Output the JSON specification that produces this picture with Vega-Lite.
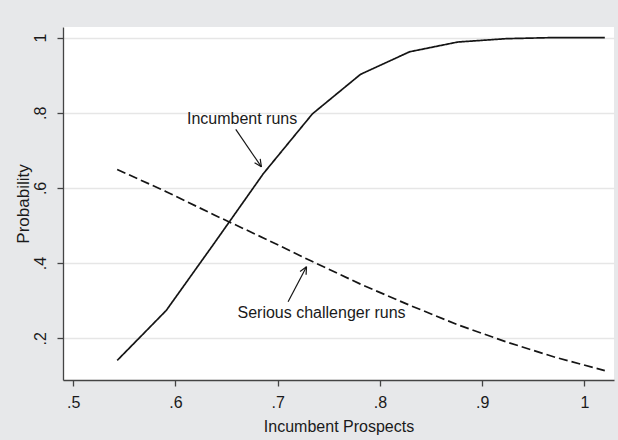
{
  "$schema": "https://vega.github.io/schema/vega-lite/v6.json",
  "autosize": {"type": "none"},
  "padding": {"left": 63, "top": 27, "right": 4, "bottom": 60},
  "width": 551,
  "height": 353,
  "background": "#e7e8ea",
  "config": {
    "view": {"stroke": null, "fill": "white"},
    "font": "Liberation Sans",
    "axis": {
      "labelFont": "Liberation Sans",
      "titleFont": "Liberation Sans",
      "labelFontSize": 16,
      "titleFontSize": 16,
      "titleFontWeight": "normal",
      "labelColor": "#1a1a1a",
      "titleColor": "#1a1a1a",
      "domainColor": "#444444",
      "domainWidth": 1.3,
      "tickColor": "#444444",
      "tickWidth": 1.3,
      "tickSize": 6
    }
  },
  "datasets": {
    "curves": [
      {"x": 0.543, "y": 0.141, "series": "Incumbent runs"},
      {"x": 0.591, "y": 0.274, "series": "Incumbent runs"},
      {"x": 0.638, "y": 0.453, "series": "Incumbent runs"},
      {"x": 0.686, "y": 0.638, "series": "Incumbent runs"},
      {"x": 0.734, "y": 0.797, "series": "Incumbent runs"},
      {"x": 0.781, "y": 0.902, "series": "Incumbent runs"},
      {"x": 0.829, "y": 0.962, "series": "Incumbent runs"},
      {"x": 0.876, "y": 0.988, "series": "Incumbent runs"},
      {"x": 0.924, "y": 0.997, "series": "Incumbent runs"},
      {"x": 0.972, "y": 1.0, "series": "Incumbent runs"},
      {"x": 1.02, "y": 1.0, "series": "Incumbent runs"},
      {"x": 0.543, "y": 0.649, "series": "Serious challenger runs"},
      {"x": 0.591, "y": 0.590, "series": "Serious challenger runs"},
      {"x": 0.638, "y": 0.528, "series": "Serious challenger runs"},
      {"x": 0.686, "y": 0.467, "series": "Serious challenger runs"},
      {"x": 0.734, "y": 0.404, "series": "Serious challenger runs"},
      {"x": 0.781, "y": 0.344, "series": "Serious challenger runs"},
      {"x": 0.829, "y": 0.288, "series": "Serious challenger runs"},
      {"x": 0.876, "y": 0.236, "series": "Serious challenger runs"},
      {"x": 0.924, "y": 0.190, "series": "Serious challenger runs"},
      {"x": 0.972, "y": 0.149, "series": "Serious challenger runs"},
      {"x": 1.02, "y": 0.114, "series": "Serious challenger runs"}
    ],
    "arrows": [
      {"x": 0.659, "y": 0.7555, "x2": 0.6841, "y2": 0.656},
      {"x": 0.6829, "y": 0.6771, "x2": 0.6841, "y2": 0.656},
      {"x": 0.6774, "y": 0.667, "x2": 0.6841, "y2": 0.656},
      {"x": 0.7102, "y": 0.2973, "x2": 0.7282, "y2": 0.3903},
      {"x": 0.7219, "y": 0.3775, "x2": 0.7282, "y2": 0.3903},
      {"x": 0.7278, "y": 0.369, "x2": 0.7282, "y2": 0.3903}
    ],
    "labels": [
      {"x": 0.6652, "y": 0.782, "label": "Incumbent runs"},
      {"x": 0.7429, "y": 0.2685, "label": "Serious challenger runs"}
    ]
  },
  "encoding": {
    "x": {
      "field": "x",
      "type": "quantitative",
      "scale": {"domain": [0.49, 1.029], "nice": false, "zero": false},
      "axis": {
        "title": "Incumbent Prospects",
        "values": [0.5, 0.6, 0.7, 0.8, 0.9, 1],
        "labelExpr": "datum.value == 1 ? '1' : replace(format(datum.value, '.1f'), '0.', '.')",
        "grid": false,
        "labelPadding": 8,
        "titlePadding": 8,
        "labelFlush": false
      }
    },
    "y": {
      "field": "y",
      "type": "quantitative",
      "scale": {"domain": [0.089, 1.028], "nice": false, "zero": false},
      "axis": {
        "title": "Probability",
        "titleFontSize": 17,
        "values": [0.2, 0.4, 0.6, 0.8, 1],
        "labelExpr": "datum.value == 1 ? '1' : replace(format(datum.value, '.1f'), '0.', '.')",
        "grid": true,
        "gridColor": "#e6e6e6",
        "gridWidth": 1.5,
        "labelAngle": -90,
        "labelAlign": "center",
        "labelBaseline": "bottom",
        "labelPadding": 9,
        "titlePadding": 0,
        "labelFlush": false
      }
    }
  },
  "layer": [
    {
      "data": {"name": "curves"},
      "mark": {"type": "line", "color": "#151515", "strokeWidth": 1.7},
      "encoding": {
        "strokeDash": {
          "field": "series",
          "type": "nominal",
          "scale": {"domain": ["Incumbent runs", "Serious challenger runs"], "range": [[1, 0], [9, 4]]},
          "legend": null
        }
      }
    },
    {
      "data": {"name": "arrows"},
      "mark": {"type": "rule", "color": "#151515", "strokeWidth": 1.2},
      "encoding": {
        "x2": {"field": "x2"},
        "y2": {"field": "y2"}
      }
    },
    {
      "data": {"name": "labels"},
      "mark": {"type": "text", "fontSize": 16, "font": "Liberation Sans", "color": "#1a1a1a", "align": "center", "baseline": "middle"},
      "encoding": {
        "text": {"field": "label", "type": "nominal"}
      }
    }
  ]
}
